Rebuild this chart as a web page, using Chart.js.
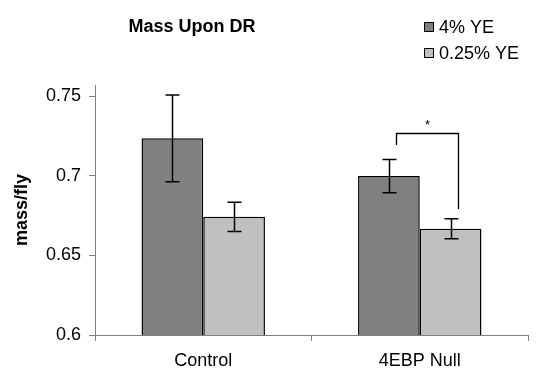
<!DOCTYPE html>
<html>
<head>
<meta charset="utf-8">
<script src="https://cdn.jsdelivr.net/npm/chart.js@4/dist/chart.umd.min.js"></script>
<style>
  html, body { margin: 0; padding: 0; background: #ffffff; }
  #wrap { width: 545px; height: 372px; position: relative; }
</style>
</head>
<body>
<div id="wrap"><canvas id="c" width="545" height="372"></canvas></div>
<script>
// ---- data ----
const categories = ['Control', '4EBP Null'];
const seriesNames = ['4% YE', '0.25% YE'];
const highYE = [0.7235, 0.6998];
const highYEErr = [0.0272, 0.0104];
const lowYE = [0.6742, 0.6667];
const lowYEErr = [0.0092, 0.0063];
const yTicks = [0.6, 0.65, 0.7, 0.75];
const chartTitle = 'Mass Upon DR';
const yAxisTitle = 'mass/fly';
// significance bracket (values in data units)
const sigCategory = 1;
const sigTop = 0.7268;
const sigLeftEnd = 0.7193;
const sigRightEnd = 0.6791;
const sigLabel = '*';

const FONT = "'Liberation Sans', Arial, sans-serif";
const colors = ['#808080', '#c0c0c0'];
const errs = [highYEErr, lowYEErr];

const errorBarPlugin = {
  id: 'errorBars',
  afterDatasetsDraw(chart) {
    const ctx = chart.ctx;
    const y = chart.scales.y;
    ctx.save();
    ctx.strokeStyle = '#000';
    ctx.lineWidth = 1.5;
    chart.data.datasets.forEach((ds, di) => {
      const meta = chart.getDatasetMeta(di);
      meta.data.forEach((bar, i) => {
        const v = ds.data[i], e = errs[di][i];
        const yt = y.getPixelForValue(v + e), yb = y.getPixelForValue(v - e);
        const x = Math.round(bar.x) + 0.5;
        ctx.beginPath();
        ctx.moveTo(x, yt); ctx.lineTo(x, yb);
        ctx.moveTo(x - 7, yt); ctx.lineTo(x + 7, yt);
        ctx.moveTo(x - 7, yb); ctx.lineTo(x + 7, yb);
        ctx.stroke();
      });
    });
    // significance bracket
    const b0 = chart.getDatasetMeta(0).data[sigCategory];
    const b1 = chart.getDatasetMeta(1).data[sigCategory];
    const xl = Math.round(b0.x + b0.width * 0.115) + 0.5;
    const xr = Math.round(b1.x + b1.width * 0.115) + 0.5;
    const yt = Math.round(y.getPixelForValue(sigTop)) + 0.5;
    ctx.lineWidth = 1.3;
    ctx.beginPath();
    ctx.moveTo(xl, y.getPixelForValue(sigLeftEnd));
    ctx.lineTo(xl, yt);
    ctx.lineTo(xr, yt);
    ctx.lineTo(xr, y.getPixelForValue(sigRightEnd));
    ctx.stroke();
    ctx.fillStyle = '#000';
    ctx.font = '13px ' + FONT;
    ctx.textAlign = 'center';
    ctx.textBaseline = 'middle';
    ctx.fillText(sigLabel, (xl + xr) / 2, yt - 8);
    ctx.restore();
  }
};

const titleLegendPlugin = {
  id: 'titleLegend',
  afterDraw(chart) {
    const ctx = chart.ctx;
    ctx.save();
    ctx.fillStyle = '#000';
    ctx.font = 'bold 18px ' + FONT;
    ctx.textAlign = 'center';
    ctx.textBaseline = 'middle';
    ctx.fillText(chartTitle, 192, 27);
    ctx.font = '18px ' + FONT;
    ctx.textAlign = 'left';
    chart.data.datasets.forEach((ds, i) => {
      const cy = 27 + i * 26;
      ctx.fillStyle = ds.backgroundColor;
      ctx.fillRect(424.5, cy - 4.5, 9, 9);
      ctx.strokeStyle = '#000';
      ctx.lineWidth = 1;
      ctx.strokeRect(424.5, cy - 4.5, 9, 9);
      ctx.fillStyle = '#000';
      ctx.fillText(ds.label, 439, cy + 1);
    });
    ctx.restore();
  }
};

new Chart(document.getElementById('c'), {
  type: 'bar',
  data: {
    labels: categories,
    datasets: [
      { label: seriesNames[0], data: highYE, backgroundColor: colors[0], borderColor: '#000', borderWidth: 1.5, borderSkipped: false },
      { label: seriesNames[1], data: lowYE, backgroundColor: colors[1], borderColor: '#000', borderWidth: 1.5, borderSkipped: false }
    ]
  },
  options: {
    responsive: false,
    animation: false,
    devicePixelRatio: 1,
    layout: { padding: { top: 85, right: 17, left: 0, bottom: 0 } },
    datasets: { bar: { barPercentage: 1, categoryPercentage: 0.57 } },
    plugins: { legend: { display: false }, title: { display: false }, tooltip: { enabled: false } },
    scales: {
      x: {
        offset: true,
        grid: { offset: true, drawOnChartArea: false, drawTicks: true, tickLength: 6, color: '#808080', lineWidth: 1 },
        border: { display: true, color: '#808080', width: 1 },
        ticks: { color: '#000', font: { family: FONT, size: 18 }, padding: 9, maxRotation: 0 },
        afterFit(s) { s.height = 37; }
      },
      y: {
        min: 0.6, max: 0.757,
        grid: { drawOnChartArea: false, drawTicks: true, tickLength: 6, color: '#808080', lineWidth: 1 },
        border: { display: true, color: '#808080', width: 1 },
        afterBuildTicks(s) { s.ticks = yTicks.map(v => ({ value: v })); },
        ticks: {
          color: '#000', font: { family: FONT, size: 18 }, padding: 8,
          callback: (v) => String(Number(v.toFixed(2)))
        },
        title: { display: true, text: yAxisTitle, color: '#000', font: { family: FONT, size: 18, weight: 'bold' }, padding: { top: 11, bottom: 0 } },
        afterFit(s) { s.width = 95; }
      }
    }
  },
  plugins: [errorBarPlugin, titleLegendPlugin]
});
</script>
</body>
</html>
